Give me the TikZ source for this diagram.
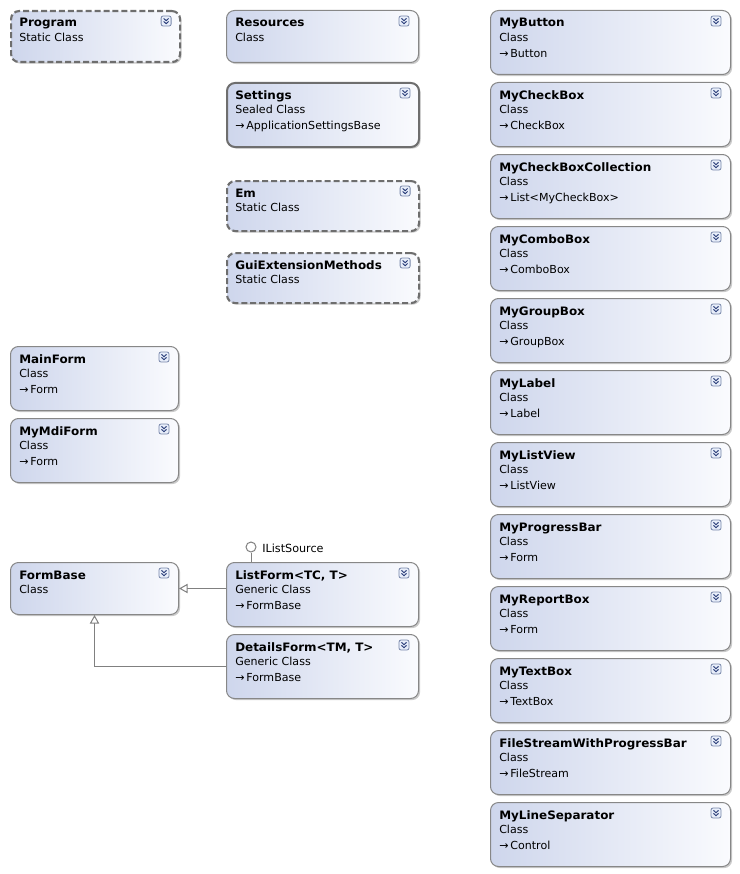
\documentclass[tikz,border=0pt]{standalone}
\usepackage{fontspec}
\setmainfont{DejaVu Sans}
\newfontfamily\ttlfont{DejaVu Sans}[FakeStretch=1.03]
\usetikzlibrary{calc,shadows,arrows.meta}
\definecolor{boxL}{RGB}{206,214,236}
\definecolor{boxR}{RGB}{250,251,254}
\definecolor{bord}{RGB}{135,135,135}
\definecolor{bordD}{RGB}{110,110,110}
\definecolor{togB}{RGB}{120,135,170}
\definecolor{togF}{RGB}{232,238,250}
\definecolor{togC}{RGB}{40,60,120}
\definecolor{conn}{RGB}{128,128,128}
\tikzset{
  clsbox/.style={rectangle,rounded corners=6pt,draw=bord,line width=0.75pt,left color=boxL,right color=boxR,inner sep=0pt,
    drop shadow={opacity=0.35,shadow xshift=1.2pt,shadow yshift=-1.2pt,fill=black!60}},
  dashedbox/.style={draw=bordD,line width=1.6pt,dash pattern=on 4.5pt off 2.2pt},
  sealedbox/.style={draw=bordD,line width=1.5pt},
  ttl/.style={font=\ttlfont\fontsize{8.7}{10}\selectfont\bfseries,inner sep=0pt},
  sub/.style={font=\fontsize{8.3}{9}\selectfont,inner sep=0pt},
  inh/.style={draw=conn,line width=0.75pt,-{Triangle[open,length=6.5pt,width=7pt,fill=white]}},
  tog/.pic={\draw[rounded corners=1.5pt,draw=togB,fill=togF,line width=0.6pt] (-5,-5) rectangle (5,5);
            \draw[togC,line width=0.7pt] (-2.5,-2.6)--(0,-0.3)--(2.5,-2.6) (-2.5,0.4)--(0,2.7)--(2.5,0.4);}
}
\newcommand\mkcls[8]{%
  \node[clsbox,#5,minimum width=#3*0.75pt,minimum height=#4*0.75pt,anchor=north west] (#1) at (#2) {};
  \node[ttl,anchor=base west] (#1-t) at ($(#1.north west)+(9,17)$) {#6};
  \node[sub,anchor=base west] (#1-s) at ($(#1.north west)+(9,31.5)$) {#7};
  \if\relax\detokenize{#8}\relax\else
  \node[sub,anchor=base west] (#1-b) at ($(#1.north west)+(9,47.5)$) {→\,#8};\fi
  \pic at ($(#1.north east)+(-15,11)$) {tog};
}
\begin{document}
\begin{tikzpicture}[x=0.75pt,y=-0.75pt]
\useasboundingbox (0,0) rectangle (739,874);
% left column
\mkcls{program}{10,10}{169}{51}{dashedbox}{Program}{Static Class}{}
\mkcls{mainform}{10,346}{168}{64}{}{MainForm}{Class}{Form}
\mkcls{mdiform}{10,418}{168}{64}{}{MyMdiForm}{Class}{Form}
\mkcls{formbase}{10,562}{168}{52}{}{FormBase}{Class}{}
% middle column
\mkcls{resources}{226,10}{192}{52}{}{Resources}{Class}{}
\mkcls{settings}{226,82}{192}{64}{sealedbox}{Settings}{Sealed Class}{ApplicationSettingsBase}
\mkcls{em}{226,180}{192}{50}{dashedbox}{Em}{Static Class}{}
\mkcls{guiext}{226,252}{192}{50}{dashedbox}{GuiExtensionMethods}{Static Class}{}
\mkcls{listform}{226,562}{192}{64}{}{ListForm<TC, T>}{Generic Class}{FormBase}
\mkcls{detailsform}{226,634}{192}{64}{}{DetailsForm<TM, T>}{Generic Class}{FormBase}
% right column
\mkcls{mybutton}{490,10}{240}{64}{}{MyButton}{Class}{Button}
\mkcls{mycheckbox}{490,82}{240}{64}{}{MyCheckBox}{Class}{CheckBox}
\mkcls{mycbcoll}{490,154}{240}{64}{}{MyCheckBoxCollection}{Class}{List<MyCheckBox>}
\mkcls{mycombo}{490,226}{240}{64}{}{MyComboBox}{Class}{ComboBox}
\mkcls{mygroup}{490,298}{240}{64}{}{MyGroupBox}{Class}{GroupBox}
\mkcls{mylabel}{490,370}{240}{64}{}{MyLabel}{Class}{Label}
\mkcls{mylistview}{490,442}{240}{64}{}{MyListView}{Class}{ListView}
\mkcls{myprogress}{490,514}{240}{64}{}{MyProgressBar}{Class}{Form}
\mkcls{myreport}{490,586}{240}{64}{}{MyReportBox}{Class}{Form}
\mkcls{mytextbox}{490,658}{240}{64}{}{MyTextBox}{Class}{TextBox}
\mkcls{filestream}{490,730}{240}{64}{}{FileStreamWithProgressBar}{Class}{FileStream}
\mkcls{mylinesep}{490,802}{240}{64}{}{MyLineSeparator}{Class}{Control}
% interface lollipop
\node[circle,draw=conn,fill=white,line width=0.75pt,minimum size=7.5pt,inner sep=0pt] (ils) at (251,547) {};
\node[sub,anchor=west,font=\fontsize{8.4}{9}\selectfont] (ilsL) at (262,548) {IListSource};
\draw[conn,line width=0.75pt] (ils) -- (ils |- listform.north);
% inheritance
\draw[inh] (listform.west |- formbase.east) -- (formbase.east);
\draw[inh] (detailsform.west) -| (formbase.south);
\end{tikzpicture}
\end{document}
